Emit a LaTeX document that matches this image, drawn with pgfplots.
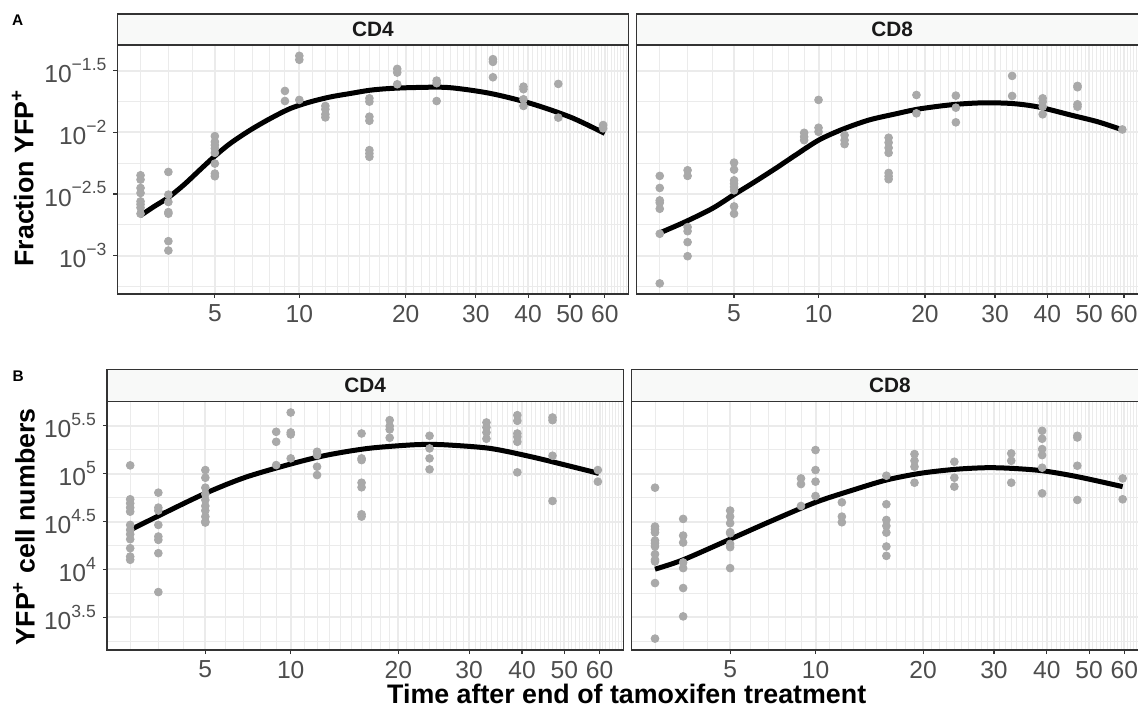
\documentclass[border=0pt]{standalone}
\usepackage{fontspec}
\setmainfont{Liberation Sans}
\usepackage{pgfplots}
\pgfplotsset{compat=1.18}
\usepackage{pgfplotstable}
\usetikzlibrary{calc}

\definecolor{gridc}{HTML}{EBEBEB}
\definecolor{ptc}{HTML}{A9A9A9}
\definecolor{tickc}{HTML}{4D4D4D}
\definecolor{axc}{HTML}{333333}
\definecolor{stripc}{HTML}{F8F9F8}

\newcommand{\ex}[1]{10\raisebox{6.2pt}{\fontsize{8.8}{8.8}\selectfont #1}}

% ---------- top row: fraction YFP+ (log10 values) ----------
\pgfplotstableread{
t v
2 -2.348
2 -2.383
2 -2.451
2 -2.492
2 -2.560
2 -2.584
2 -2.611
2 -2.660
3 -2.321
3 -2.505
3 -2.565
3 -2.647
3 -2.660
3 -2.883
3 -2.959
5 -2.030
5 -2.076
5 -2.103
5 -2.130
5 -2.166
5 -2.253
5 -2.334
5 -2.356
9 -1.663
9 -1.745
10 -1.378
10 -1.410
10 -1.736
12 -1.785
12 -1.812
12 -1.853
12 -1.878
16 -1.723
16 -1.750
16 -1.872
16 -1.905
16 -2.144
16 -2.171
16 -2.198
19 -1.484
19 -1.514
19 -1.609
24 -1.579
24 -1.600
24 -1.745
33 -1.405
33 -1.427
33 -1.552
39 -1.628
39 -1.649
39 -1.731
39 -1.785
47 -1.606
47 -1.880
59.5 -1.940
59.5 -1.967
}\topfourP

\pgfplotstableread{
t v
1.99 -2.676
2.46 -2.603
2.99 -2.530
3.61 -2.427
4.33 -2.300
5 -2.192
5.77 -2.089
6.85 -1.981
8.05 -1.887
9.36 -1.806
10.81 -1.752
12.40 -1.712
14.15 -1.684
16.08 -1.657
18.21 -1.643
21.37 -1.635
25.8 -1.636
32.4 -1.682
40.5 -1.764
50.3 -1.878
60 -2.008
}\topfourF

\pgfplotstableread{
t v
2 -2.353
2 -2.451
2 -2.552
2 -2.571
2 -2.620
2 -2.823
2 -3.226
3 -2.307
3 -2.353
3 -2.769
3 -2.802
3 -2.891
3 -3.005
5 -2.245
5 -2.302
5 -2.389
5 -2.416
5 -2.443
5 -2.470
5 -2.601
5 -2.660
9 -2.003
9 -2.035
9 -2.063
10 -1.736
10 -1.962
10 -1.995
12 -2.022
12 -2.063
12 -2.095
16 -2.043
16 -2.082
16 -2.125
16 -2.166
16 -2.329
16 -2.356
16 -2.380
19 -1.696
19 -1.845
24 -1.701
24 -1.799
24 -1.918
33 -1.541
33 -1.704
39 -1.723
39 -1.750
39 -1.791
39 -1.853
47 -1.622
47 -1.633
47 -1.772
47 -1.791
59.5 -1.976
}\topeightP

\pgfplotstableread{
t v
1.98 -2.818
2.93 -2.724
4.02 -2.616
4.97 -2.508
5.92 -2.413
7.21 -2.292
8.43 -2.184
10.02 -2.062
11.80 -1.976
14.08 -1.900
16.68 -1.850
19.25 -1.810
23.44 -1.775
27.83 -1.760
32.91 -1.765
38.05 -1.793
45.51 -1.860
52.38 -1.914
59.19 -1.976
}\topeightF

% ---------- bottom row: YFP+ cell numbers (log10 values) ----------
\pgfplotstableread{
t v
2 5.087
2 4.733
2 4.691
2 4.646
2 4.604
2 4.465
2 4.413
2 4.368
2 4.316
2 4.222
2 4.135
2 4.101
3 4.802
3 4.646
3 4.615
3 4.465
3 4.344
3 4.309
3 4.170
3 3.764
5 5.038
5 4.958
5 4.854
5 4.788
5 4.726
5 4.663
5 4.615
5 4.552
5 4.500
5 4.490
9 5.4375
9 5.333
9 5.090
10 5.639
10 5.431
10 5.410
10 5.160
12 5.229
12 5.194
12 5.073
12 4.986
16 5.420
16 5.160
16 5.142
16 4.906
16 4.858
16 4.576
16 4.552
19 5.559
19 5.497
19 5.462
19 5.375
24 5.396
24 5.264
24 5.160
24 5.045
33 5.535
33 5.483
33 5.431
33 5.365
39 5.611
39 5.552
39 5.420
39 5.385
39 5.333
39 5.014
47 5.587
47 5.559
47 5.1875
47 4.715
59.5 5.038
59.5 4.917
}\botfourP

\pgfplotstableread{
t v
2.0 4.413
3.21 4.587
5 4.795
7.09 4.962
10 5.101
12.82 5.194
16.64 5.264
21.28 5.299
24 5.306
26.9 5.299
33.7 5.264
42.0 5.177
52.1 5.073
59.8 5.003
}\botfourF

\pgfplotstableread{
t v
2 4.854
2 4.448
2 4.420
2 4.385
2 4.302
2 4.274
2 4.240
2 4.160
2 4.101
2 4.083
2 3.858
2 3.278
3 4.528
3 4.354
3 4.281
3 4.073
3 4.014
3 3.806
3 3.510
5 4.615
5 4.552
5 4.483
5 4.389
5 4.378
5 4.267
5 4.233
5 4.014
9 4.951
9 4.892
9 4.663
10 5.247
10 5.038
10 4.917
10 4.767
12 4.701
12 4.552
12 4.493
16 4.979
16 4.681
16 4.517
16 4.455
16 4.385
16 4.240
16 4.142
19 5.205
19 5.135
19 5.073
19 4.906
24 5.125
24 4.958
24 4.865
33 5.212
33 5.135
33 4.906
39 5.448
39 5.365
39 5.257
39 5.194
39 5.0625
39 4.795
47 5.396
47 5.378
47 5.083
47 4.726
59.5 4.951
59.5 4.733
}\boteightP

\pgfplotstableread{
t v
2.0 4.003
3.0 4.101
5 4.316
7.08 4.5
10 4.701
12.93 4.830
16.0 4.934
19.6 5.003
24 5.045
28.7 5.0625
33 5.056
39 5.031
47 4.969
59.5 4.865
}\boteightF

\pgfplotsset{
  panel/.style={
    scale only axis,
    xmin=0.797, xmax=1.862,
    xtick={1,1.176091,1.397940,1.544068,1.653213,1.740363,1.812913},
    xticklabels={5,10,20,30,40,50,60},
    minor xtick={0.845098,0.903090,0.954243,1.041393,1.079181,1.113943,1.146128,
      1.204120,1.230449,1.255273,1.278754,1.301030,1.322219,1.342423,1.361728,1.380211,
      1.414973,1.431364,1.447158,1.462398,1.477121,1.491362,1.505150,1.518514,1.531479,
      1.556303,1.568202,1.579784,1.591065,1.602060,1.612784,1.623249,1.633468,1.643453,
      1.662758,1.672098,1.681241,1.690196,1.698970,1.707570,1.716003,1.724276,1.732394,
      1.748188,1.755875,1.763428,1.770852,1.778151,1.785330,1.792392,1.799341,1.806180,
      1.819544,1.826075,1.832509,1.838849,1.845098,1.851258,1.857332},
    grid=both,
    major grid style={gridc, line width=1pt},
    minor grid style={gridc, line width=0.5pt},
    axis line style={axc, line width=0.7pt},
    tick align=outside,
    major tick length=2pt,
    minor tick length=0pt,
    xtick pos=left, ytick pos=left,
    every tick/.style={axc, line width=0.6pt},
    tick label style={font=\fontsize{12.3}{12.3}\selectfont, text=tickc},
    axis background/.style={fill=white},
  },
  toprow/.style={
    panel, width=255.4pt, height=124.5pt,
    ymin=-3.312, ymax=-1.29,
    ytick={-3,-2.5,-2,-1.5},
    minor ytick={-3.25,-2.75,-2.25,-1.75},
  },
  botrow/.style={
    panel, width=258.2pt, height=124.35pt,
    ymin=3.159, ymax=5.756,
    ytick={3.5,4,4.5,5,5.5},
    minor ytick={3.25,3.75,4.25,4.75,5.25,5.75},
  },
  pts/.style={only marks, mark=*, mark size=1.95pt, color=ptc, mark options={fill=ptc, draw=ptc}},
  fit/.style={black, line width=2.5pt, smooth, tension=0.5, no markers},
}

\begin{document}
\begin{tikzpicture}
% ---- top left: CD4 fraction
\begin{axis}[toprow, name=tl, at={(58.75pt,206.5pt)}, anchor=south west,
  yticklabels={\ex{−3},\ex{−2.5},\ex{−2},\ex{−1.5}}]
\addplot[pts] table[x expr={log10(\thisrow{t}+5)}, y=v] {\topfourP};
\addplot[fit] table[x expr={log10(\thisrow{t}+5)}, y=v] {\topfourF};
\end{axis}
% ---- top right: CD8 fraction
\begin{axis}[toprow, name=tr, at={(318.35pt,206.5pt)}, anchor=south west,
  yticklabels={}, ytick style={draw=none}]
\addplot[pts] table[x expr={log10(\thisrow{t}+5)}, y=v] {\topeightP};
\addplot[fit] table[x expr={log10(\thisrow{t}+5)}, y=v] {\topeightF};
\end{axis}
% ---- bottom left: CD4 numbers
\begin{axis}[botrow, name=bl, at={(53.45pt,28.5pt)}, anchor=south west,
  yticklabels={\ex{3.5},\ex{4},\ex{4.5},\ex{5},\ex{5.5}}]
\addplot[pts] table[x expr={log10(\thisrow{t}+5)}, y=v] {\botfourP};
\addplot[fit] table[x expr={log10(\thisrow{t}+5)}, y=v] {\botfourF};
\end{axis}
% ---- bottom right: CD8 numbers
\begin{axis}[botrow, name=br, at={(315.85pt,28.5pt)}, anchor=south west,
  yticklabels={}, ytick style={draw=none}]
\addplot[pts] table[x expr={log10(\thisrow{t}+5)}, y=v] {\boteightP};
\addplot[fit] table[x expr={log10(\thisrow{t}+5)}, y=v] {\boteightF};
\end{axis}

% ---- strips
\foreach \ax/\lab/\h in {tl/CD4/15.5pt, tr/CD8/15.5pt, bl/CD4/16pt, br/CD8/16pt}{
  \draw[axc, line width=0.7pt, fill=stripc] (\ax.north west) rectangle ([yshift=\h]\ax.north east);
  \node[font=\bfseries\fontsize{10.4}{10.4}\selectfont, text=black!90] at ([yshift=\h/2]$(\ax.north west)!0.5!(\ax.north east)$) {\lab};
}

% ---- titles and panel letters
\node[rotate=90, anchor=base, font=\bfseries\fontsize{13.4}{13.4}\selectfont] at (16.65pt,264.5pt) {Fraction YFP\textsuperscript{+}};
\node[rotate=90, anchor=base, font=\bfseries\fontsize{13.4}{13.4}\selectfont] at (17.3pt,90.15pt) {YFP\textsuperscript{+} cell numbers};
\node[anchor=base, font=\bfseries\fontsize{13.4}{13.4}\selectfont] at (313.35pt,1.85pt) {Time after end of tamoxifen treatment};
\node[anchor=base west, inner sep=0pt, font=\bfseries\fontsize{7.7}{7.7}\selectfont] at (5.85pt,340.5pt) {A};
\node[anchor=base west, inner sep=0pt, font=\bfseries\fontsize{7.7}{7.7}\selectfont] at (6.1pt,162.65pt) {B};

\pgfresetboundingbox
\path[use as bounding box] (0,0) rectangle (569pt,353.5pt);
\end{tikzpicture}
\end{document}
